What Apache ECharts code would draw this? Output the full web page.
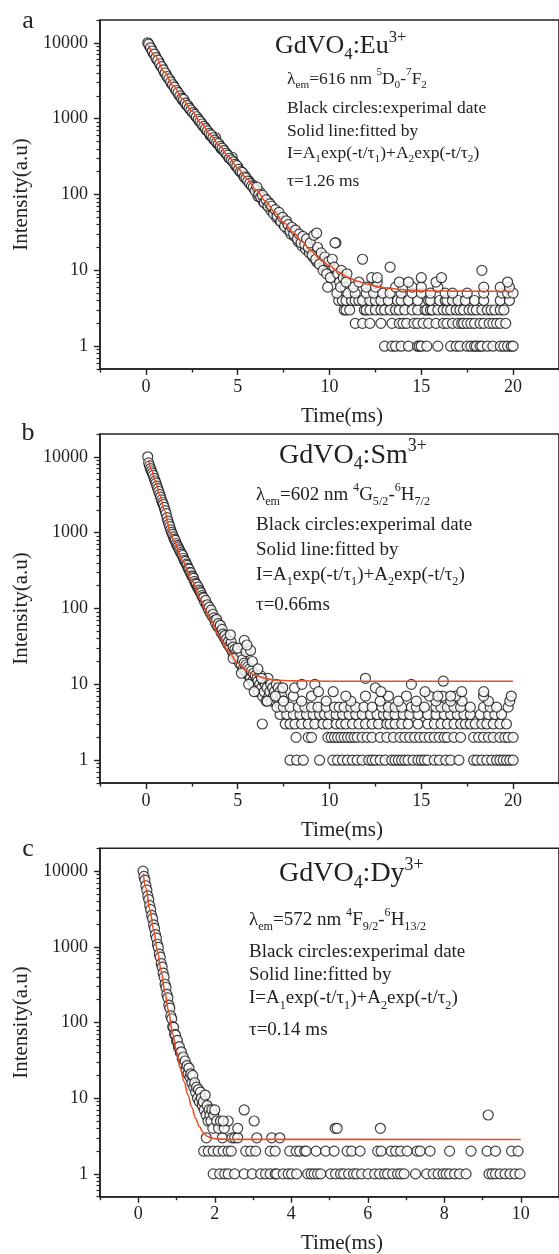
<!DOCTYPE html>
<html><head><meta charset="utf-8">
<script src="https://cdn.jsdelivr.net/npm/echarts@6/dist/echarts.min.js"></script>
<style>html,body{margin:0;padding:0;background:#fff}#c{width:559px;height:1254px}</style>
</head><body><div id="c"></div>
<script>
// ---------------- DATA ----------------
const yMajor = [1, 10, 100, 1000, 10000];
const yMinor = [0.5,0.6,0.7,0.8,0.9,2,3,4,5,6,7,8,9,20,30,40,50,60,70,80,90,200,300,400,500,600,700,800,900,2000,3000,4000,5000,6000,7000,8000,9000,20000];
const abMajorX = [0, 5, 10, 15, 20];
const abMinorX = [-2.5, 2.5, 7.5, 12.5, 17.5, 22.5];
const cMajorX = [0, 2, 4, 6, 8, 10];
const cMinorX = [-1, 1, 3, 5, 7, 9, 11];

// panel a (Eu)
const aDecay = [[0.1,10000],[0.2,9100],[0.3,8300],[0.4,7300],[0.5,6900],[0.6,6000],[0.7,5700],[0.8,5000],[0.9,4700],[1.0,4100],
[1.1,3850],[1.2,3450],[1.3,3250],[1.4,2900],[1.5,2750],[1.6,2450],[1.7,2300],[1.8,2050],[1.9,1980],[2.0,1750],
[2.1,1700],[2.2,1520],[2.3,1470],[2.4,1330],[2.5,1250],[2.6,1190],[2.7,1080],[2.8,1030],[2.9,930],[3.0,890],
[3.1,810],[3.2,780],[3.3,700],[3.4,670],[3.5,600],[3.6,590],[3.7,530],[3.8,560],[3.9,465],[4.0,450],
[4.1,400],[4.2,395],[4.3,360],[4.4,345],[4.5,310],[4.6,300],[4.7,310],[4.8,265],[4.9,235],[5.0,230],
[5.1,205],[5.2,200],[5.3,180],[5.4,176],[5.5,158],[5.6,152],[5.7,137],[5.8,135],[5.9,120],[6.0,117],
[6.1,95],[6.2,108],[6.3,90],[6.4,80],[6.5,88],[6.6,72],[6.7,78],[6.8,62],[6.9,66],[7.0,60],
[7.1,50],[7.2,55],[7.3,45],[7.4,48],[7.5,40],[7.6,44],[7.7,35],[7.8,38],[7.9,30],[8.0,33],
[8.1,28],[8.2,31],[8.3,24],[8.4,27],[8.5,21],[8.6,25],[8.7,19],[8.8,22],[8.9,17],[9.0,19],
[9.1,15],[9.2,18],[9.3,13],[9.4,16],[9.5,12],[9.6,14],[9.7,11],[9.8,13],[9.9,10],[10.0,12],
[0.15,9600],[0.25,8600],[0.35,7800],[0.45,7100],[0.55,6400],[0.65,5900],[0.75,5300],[0.85,4850],[0.95,4400],[1.05,4000],
[1.15,3600],[1.25,3350],[1.35,3050],[1.45,2800],[1.55,2600],[1.65,2350],[1.75,2200],[1.85,2000],[1.95,1850],[2.05,1800],
[2.15,1600],[2.25,1500],[2.35,1380],[2.45,1300],[2.55,1200],[2.65,1140],[2.75,1060],[2.85,980],[2.95,920],[3.05,850],
[3.15,790],[3.25,740],[3.35,690],[3.45,640],[3.55,610],[3.65,560],[3.75,520],[3.85,490],[3.95,470],[4.05,430],
[4.15,410],[4.25,380],[4.35,350],[4.45,330],[4.55,300],[4.65,285],[4.75,270],[4.85,250],[4.95,240],[5.05,215],
[5.15,200],[5.25,195],[5.35,170],[5.45,165],[5.55,150],[5.65,140],[5.75,130],[5.85,125],[5.95,112],
[6.05,125],[6.15,100],[6.25,92],[6.35,98],[6.45,78],[6.55,85],[6.65,70],[6.75,75],[6.85,70],[6.95,56],
[7.05,63],[7.15,52],[7.25,58],[7.35,44],[7.45,50],[7.55,38],[7.65,45],[7.75,40],[7.85,33],[7.95,37],
[8.05,30],[8.15,34],[8.25,26],[8.35,30],[8.45,23],[8.55,28],[8.65,22],[8.75,26],[8.85,20],[8.95,23],
[9.05,16],[9.15,29],[9.25,14],[9.35,20],[9.45,12],[9.55,17],[9.65,10],[9.75,15],[9.85,9],[9.95,13],
[10.05,8],[10.15,14],[10.25,11],[10.35,23],[10.45,9],[10.55,7],[10.65,10],[10.75,8],[10.85,6],[10.95,9]];
const aLevel1 = [13.0,13.4,13.6,13.9,14.3,14.8,14.9,15.0,15.3,15.9,16.6,16.9,17.1,17.5,17.7,17.9,18.0,18.2,18.3,18.6,18.9,19.3,19.5,19.7,19.9,20.0];
const aLevel2 = [11.4,11.8,12.2,12.8,13.4,13.8,14.0,14.2,14.6,14.8,15.1,15.4,15.8,16.2,16.4,16.7,17.0,17.2,17.3,17.5,17.7,17.9,18.2,18.4,18.7,18.9,19.1,19.3,19.6];
const aLevel3 = [10.8,10.9,11.1,11.9,12.0,12.2,12.5,12.8,13.0,13.3,13.6,13.8,14.1,14.5,14.8,15.2,15.3,15.5,15.6,15.9,16.2,16.4,16.6,16.9,17.1,17.3,17.6,17.8,18.0,18.3,18.6,18.8,19.0,19.3,19.5];
const aLevel4 = [10.5,10.7,10.9,11.2,11.4,11.6,11.8,12.2,12.5,12.8,13.2,13.7,13.9,14.3,14.8,15.4,15.5,16.0,16.3,16.4,16.7,17.0,17.4,17.9,18.4,19.3,19.8];
const aLevel5 = [10.4,11.0,11.4,12.0,12.4,12.9,13.3,13.9,14.5,15.0,15.5,16.3,16.7,17.5,18.4,19.4,19.7,20.0];
const aLevel6 = [9.9,10.6,11.3,12.0,12.5,13.6,14.0,14.5,15.0,15.9,18.4,19.3,19.8];
const aOther = [[10.9,7],[11.6,7],[12.6,7],[13.8,7],[14.3,7],[15.8,7],[19.7,7],[12.3,8],[12.6,8],[15.0,8],[16.1,8],[10.3,23],[11.8,14],[13.3,11],[18.3,10],[9.3,31]];
const aFit = [[0.15,9300],[0.5,6760],[1.0,4170],[1.5,2690],[2.0,1800],[2.5,1260],[3.0,880],[3.5,617],[4.0,442],[4.5,316],[5.0,224],[5.5,160],[6.0,115],[6.5,82],[7.0,59],[7.5,43],[8.0,32],[8.5,24],[9.0,18],[9.5,14],[10,11.5],[10.5,9.5],[11,8.1],[11.5,7.2],[12,6.6],[12.5,6.2],[13,5.9],[14,5.55],[15,5.4],[16,5.35],[18,5.3],[20,5.3]];

// panel b (Sm)
const bDecay = [[0.1,10000],[0.15,8300],[0.2,7600],[0.25,7000],[0.3,6500],[0.35,6100],[0.4,5700],[0.45,5200],[0.5,4800],[0.55,4500],[0.6,4100],[0.65,3800],[0.7,3500],[0.75,3200],[0.8,2950],[0.85,2700],[0.9,2500],[0.95,2350],[1.0,2150],[1.05,1950],[1.1,1780],[1.15,1580],[1.2,1420],[1.25,1300],[1.3,1200],[1.35,1090],[1.4,1010],[1.45,950],[1.5,880],[1.55,820],[1.6,790],[1.65,720],[1.7,680],[1.75,650],[1.8,610],[1.85,580],[1.9,545],[1.95,520],[2.0,500],[2.05,460],[2.1,430],[2.15,415],[2.2,385],[2.25,370],[2.3,340],[2.35,330],[2.4,300],[2.45,295],[2.5,270],[2.55,262],[2.6,250],[2.65,228],[2.7,215],[2.75,208],[2.8,190],[2.85,192],[2.9,175],[2.95,166],[3.0,160],[3.05,148],[3.1,140],[3.15,138],[3.2,122],[3.25,128],[3.3,110],[3.35,112],[3.4,98],[3.45,104],[3.5,88],[3.55,95],[3.6,80],[3.65,84],[3.7,75],[3.75,70],[3.8,64],[3.85,72],[3.9,58],[3.95,63],[4.0,55],[4.05,60],[4.1,48],[4.15,53],[4.2,46],[4.25,42],[4.3,44],[4.35,38],[4.4,40],[4.45,34],[4.5,37],[4.55,32],[4.6,30],[4.65,36],[4.7,27],[4.75,31],[4.8,25],[4.85,29],[4.9,23],[4.95,27],[5.0,21],[5.05,25],[5.1,19],[5.15,23],[5.2,18],[5.25,21],[5.3,16],[5.35,19],[5.4,15],[5.45,18],[5.5,14],[5.55,17],[5.6,13],[5.65,16],[5.7,12],[5.75,15],[5.8,11],[5.85,14],[5.9,10],[5.95,13],[6.0,9],[6.05,12],[6.1,11],[6.15,8],[6.2,10],[6.25,13],[6.3,9],[6.35,7],[6.4,11],[6.45,8],[6.5,10],[6.55,6],[6.6,9],[6.65,12],[6.7,7],[6.75,8],[6.8,10],[6.85,6],[6.9,9],[6.95,7],[7.0,8],[7.05,6],[7.1,10],[7.15,7],[7.2,9],[7.25,6],[7.3,8],[7.35,5],[7.4,7],[7.45,9],[7.5,6],
[4.6,45],[4.75,22],[5.0,30],[5.2,14],[5.45,27],[5.6,10],[5.8,20],[5.9,8],[6.1,16],[6.3,12],[5.36,38],[5.7,28],[5.5,33]];
const bLevel1 = [7.85,8.21,8.57,9.46,10.18,10.44,10.71,10.98,11.25,11.51,11.78,12.14,12.32,12.5,12.76,13.03,13.39,13.57,13.75,13.93,14.1,14.28,14.55,14.82,15.0,15.17,15.35,15.71,15.98,16.33,16.6,17.05,17.85,18.03,18.3,18.57,18.84,19.1,19.28,19.46,19.64,19.82,20.0];
const bLevel2 = [8.18,8.84,9.02,9.91,10.09,10.27,10.44,10.62,10.8,10.98,11.16,11.34,11.51,11.78,12.05,12.32,12.76,13.12,13.48,13.84,14.1,14.37,14.64,14.91,15.17,15.44,15.71,15.98,16.25,16.42,16.78,17.14,17.85,18.12,18.39,18.66,18.92,19.28,19.55,19.73,20.0];
const bLevel3 = [7.59,7.85,8.12,8.48,8.84,9.2,9.64,9.91,10.36,10.62,10.89,11.25,11.6,11.96,12.32,12.67,13.12,13.3,13.57,13.93,14.28,14.82,15.35,15.71,16.07,16.42,16.78,17.14,17.4,17.67,17.94,18.3,18.57,18.92,19.28,19.64];
const bLevel4 = [7.31,7.67,8.03,8.39,8.75,9.11,9.46,9.73,10.0,10.36,10.71,11.07,11.43,11.78,12.23,12.59,12.94,13.21,13.57,14.01,14.37,14.82,15.35,15.8,16.25,16.6,16.96,17.32,17.67,18.21,18.66,19.01,19.37];
const bLevel5 = [7.14,7.49,7.85,8.3,8.66,9.02,9.37,9.82,10.27,10.53,10.8,11.16,11.43,11.87,12.32,12.85,13.21,13.57,13.93,14.46,14.73,15.17,15.8,16.07,16.42,16.78,17.14,17.67,18.39,18.75,19.1,19.73];
const bLevel6 = [6.61,7.49,8.48,9.82,11.16,12.76,13.75,14.73,15.8,16.6,17.22,18.66,19.82];
const bLevel7 = [7.05,8.03,9.02,10.89,11.96,13.21,14.19,15.44,16.15,16.87,18.39];
const bOther = [[8.1,9],[8.5,10],[9.2,10],[9.4,8],[10.2,8],[12.5,9],[12.8,8],[15.2,8],[15.9,7],[16.6,7],[17.2,8],[18.4,8],[19.9,7],[11.96,12],[14.46,10],[16.2,11],[6.34,3]];
const bFit = [[0.15,8900],[0.3,6760],[0.5,4900],[0.75,3160],[1.0,2000],[1.34,1000],[1.5,810],[2.0,430],[2.5,235],[3.0,130],[3.2,100],[3.5,72],[4.0,43],[4.5,27],[5.0,19],[5.5,15],[6.0,13],[6.5,12],[7.0,11.4],[8.0,11.1],[10,11],[20,11]];

// panel c (Dy)
const cDecay = [[0.125,10000],[0.15,8500],[0.175,7600],[0.2,6400],[0.225,5600],[0.25,4700],[0.275,4200],[0.3,3500],[0.325,3100],[0.35,2600],[0.375,2350],[0.4,1950],[0.425,1750],[0.45,1450],[0.475,1300],[0.5,1080],[0.525,980],[0.55,800],[0.575,730],[0.6,600],[0.625,540],[0.65,450],[0.675,400],[0.7,320],[0.725,290],[0.75,235],[0.775,212],[0.8,170],[0.825,155],[0.85,122],[0.875,112],[0.9,88],[0.925,86],[0.95,70],[0.975,68],[1.0,57],[1.025,58],[1.05,47],[1.075,48],[1.1,40],[1.125,41],[1.15,33],[1.175,35],[1.2,28],[1.225,31],[1.25,24],[1.275,27],[1.3,21],[1.325,25],[1.35,19],[1.375,21],[1.4,16],[1.425,20],[1.45,14],[1.475,16],[1.5,12],[1.525,14],[1.55,10],[1.575,13],[1.6,9],[1.625,12],[1.65,10],[1.675,8],[1.7,9],[1.725,7],[1.75,11],[1.775,6],[1.8,8],[1.825,5],[1.85,7],[1.875,6],[1.9,5],[1.925,7],[1.95,4],[1.975,6],[2.0,7],[2.05,5],[2.1,4],[2.15,5],[2.2,3],[2.25,4],[2.35,5]];
const cLevel1 = [1.96,2.13,2.26,2.35,2.52,2.77,2.98,3.2,3.33,3.45,3.58,3.62,3.79,3.92,4.01,4.14,4.43,4.52,4.6,4.69,4.77,5.03,5.16,5.29,5.37,5.5,5.63,5.71,5.84,6.01,6.18,6.31,6.44,6.52,6.65,6.78,6.86,6.95,7.25,7.54,7.71,7.84,7.97,8.05,8.14,8.27,8.4,8.57,9.17,9.25,9.34,9.46,9.59,9.72,9.85,9.98];
const cLevel2 = [1.71,1.83,1.96,2.09,2.22,2.35,2.43,2.81,2.94,3.07,3.45,3.58,3.96,4.13,4.22,4.35,4.39,4.65,4.9,5.12,5.46,5.58,5.8,6.26,6.35,6.61,6.73,6.86,7.03,7.29,7.37,7.63,8.14,8.7,9.12,9.34,9.76,9.93];
const cLevel3 = [1.78,2.45,2.52,2.6,3.1,3.49,3.7];
const cOther = [[2.22,5],[2.6,4],[2.77,7],[3.03,5],[5.15,4],[5.2,4],[6.33,4],[9.15,6]];
const cFit = [[0.13,9300],[0.2,6000],[0.3,3160],[0.4,1700],[0.5,890],[0.6,480],[0.7,250],[0.8,135],[0.9,71],[1.0,42],[1.1,25],[1.2,16.5],[1.3,11],[1.4,7.6],[1.5,5.4],[1.6,4.2],[1.7,3.5],[1.8,3.15],[1.9,3.0],[2.0,2.92],[2.2,2.88],[2.5,2.86],[10,2.85]];

// text
const titles = ['GdVO{s|4}:Eu{p|3+}', 'GdVO{s|4}:Sm{p|3+}', 'GdVO{s|4}:Dy{p|3+}'];
const lambdaLines = ['λ{s|em}=616 nm {p|5}D{s|0}-{p|7}F{s|2}', 'λ{s|em}=602 nm {p|4}G{s|5/2}-{p|6}H{s|7/2}', 'λ{s|em}=572 nm {p|4}F{s|9/2}-{p|6}H{s|13/2}'];
const tauLines = ['τ=1.26 ms', 'τ=0.66ms', 'τ=0.14 ms'];
const commonLines = ['Black circles:experimal date', 'Solid line:fitted by', 'I=A{s|1}exp(-t/τ{s|1})+A{s|2}exp(-t/τ{s|2})'];
const panelLetters = ['a', 'b', 'c'];

// ---------------- CHART ----------------
const SERIF = '"Liberation Serif","Times New Roman",serif';
const INK = '#222';
const FIT = '#E8502A';
const lvl = (arr, v) => arr.map(t => [t, v]);

const grids = [
  {left: 100, top: 20, height: 349, right: -8},
  {left: 100, top: 434, height: 349, right: -8},
  {left: 100, top: 848.3, height: 348.4, right: -10}
];
const xRanges = [[-2.5, 22.5, abMajorX, abMinorX], [-2.5, 22.5, abMajorX, abMinorX], [-1, 11, cMajorX, cMinorX]];

const xAxis = [], yAxis = [];
grids.forEach((g, i) => {
  const [mn, mx, maj, mnr] = xRanges[i];
  xAxis.push({type: 'value', gridIndex: i, min: mn, max: mx, position: 'bottom',
    axisLine: {show: true, onZero: false, lineStyle: {color: INK, width: 1.6}},
    axisTick: {show: true, length: 6, customValues: maj, lineStyle: {color: INK, width: 1.4}},
    axisLabel: {show: true, customValues: maj, margin: 9, color: INK, fontSize: 18, fontFamily: SERIF},
    splitLine: {show: false}});
  xAxis.push({type: 'value', gridIndex: i, min: mn, max: mx, position: 'bottom',
    axisLine: {show: false, onZero: false, lineStyle: {color: INK}},
    axisTick: {show: true, length: 3.5, customValues: mnr, lineStyle: {color: INK, width: 1.4}},
    axisLabel: {show: false}, splitLine: {show: false}});
  yAxis.push({type: 'log', logBase: 10, gridIndex: i, min: 0.5, max: 20000, position: 'left',
    axisLine: {show: true, onZero: false, lineStyle: {color: INK, width: 1.6}},
    axisTick: {show: true, length: 6, customValues: yMajor, lineStyle: {color: INK, width: 1.4}},
    axisLabel: {show: true, customValues: yMajor, margin: 12, color: INK, fontSize: 18, fontFamily: SERIF,
      formatter: v => String(Math.round(v))},
    splitLine: {show: false},
    name: 'Intensity(a.u)', nameLocation: 'middle', nameGap: 66,
    nameTextStyle: {fontSize: 21, fontFamily: SERIF, color: INK}});
  yAxis.push({type: 'log', logBase: 10, gridIndex: i, min: 0.5, max: 20000, position: 'left',
    axisLine: {show: false, onZero: false, lineStyle: {color: INK}},
    axisTick: {show: true, length: 3.5, customValues: yMinor, lineStyle: {color: INK, width: 1.2}},
    axisLabel: {show: false}, splitLine: {show: false}});
});

const scatterSets = [
  aDecay.concat(lvl(aLevel1,1), lvl(aLevel2,2), lvl(aLevel3,3), lvl(aLevel4,4), lvl(aLevel5,5), lvl(aLevel6,6), aOther),
  bDecay.concat(lvl(bLevel1,1), lvl(bLevel2,2), lvl(bLevel3,3), lvl(bLevel4,4), lvl(bLevel5,5), lvl(bLevel6,6), lvl(bLevel7,7), bOther),
  cDecay.concat(lvl(cLevel1,1), lvl(cLevel2,2), lvl(cLevel3,3), cOther)
];
const fits = [aFit, bFit, cFit];

const series = [];
for (let i = 0; i < 3; i++) {
  series.push({type: 'scatter', xAxisIndex: 2*i, yAxisIndex: 2*i, data: scatterSets[i],
    symbol: 'circle', symbolSize: 10, z: 2,
    itemStyle: {color: '#fff', borderColor: '#111', borderWidth: 1.2}, silent: true});
  series.push({type: 'line', xAxisIndex: 2*i, yAxisIndex: 2*i, data: fits[i],
    showSymbol: false, smooth: 0.35, smoothMonotone: 'x', z: 3,
    lineStyle: {color: FIT, width: 1.6}, silent: true});
}

function richSet(size) {
  const small = size * 0.64;
  return {
    s: {fontSize: small, fontFamily: SERIF, fill: INK, lineHeight: small, verticalAlign: 'bottom'},
    p: {fontSize: small, fontFamily: SERIF, fill: INK, lineHeight: small, verticalAlign: 'top'}
  };
}
function txt(x, y, text, size, lh, align) {
  return {type: 'text', x: x, y: y, silent: true, z: 10,
    style: {text: text, fill: INK, fontSize: size, fontFamily: SERIF, lineHeight: lh,
      rich: richSet(size), align: align || 'left', verticalAlign: 'top'}};
}

// annotation layout per panel
const layout = [
  {titleX: 275, titleTop: 29, tSize: 26, tLH: 34, bodyX: 287, bSize: 17.5, bLH: 24, tops: [67, 96, 119, 141, 169]},
  {titleX: 279, titleTop: 437.5, tSize: 28, tLH: 36, bodyX: 256, bSize: 19, bLH: 26, tops: [482, 512, 537, 562, 592]},
  {titleX: 279, titleTop: 856, tSize: 28, tLH: 36, bodyX: 249, bSize: 19, bLH: 26, tops: [907, 939, 962, 985.5, 1017]}
];
const letterY = [21, 433, 849.5];
const timeY = [416, 830, 1243.7];

const graphic = [];
layout.forEach((L, i) => {
  graphic.push(txt(L.titleX, L.titleTop, titles[i], L.tSize, L.tLH));
  const lines = [lambdaLines[i], commonLines[0], commonLines[1], commonLines[2], tauLines[i]];
  lines.forEach((s, k) => graphic.push(txt(L.bodyX, L.tops[k], s, L.bSize, L.bLH)));
  graphic.push({type: 'text', x: 28, y: letterY[i], silent: true,
    style: {text: panelLetters[i], fill: INK, fontSize: 26, fontFamily: SERIF, align: 'center', verticalAlign: 'middle'}});
  graphic.push({type: 'text', x: 342, y: timeY[i], silent: true,
    style: {text: 'Time(ms)', fill: INK, fontSize: 21, fontFamily: SERIF, align: 'center', verticalAlign: 'middle'}});
});

const chart = echarts.init(document.getElementById('c'), null, {renderer: 'canvas'});
chart.setOption({
  animation: false,
  backgroundColor: '#fff',
  grid: grids.map(g => Object.assign({show: true, borderColor: INK, borderWidth: 1.6, backgroundColor: 'transparent'}, g)),
  xAxis: xAxis,
  yAxis: yAxis,
  series: series,
  graphic: graphic
});
</script></body></html>
